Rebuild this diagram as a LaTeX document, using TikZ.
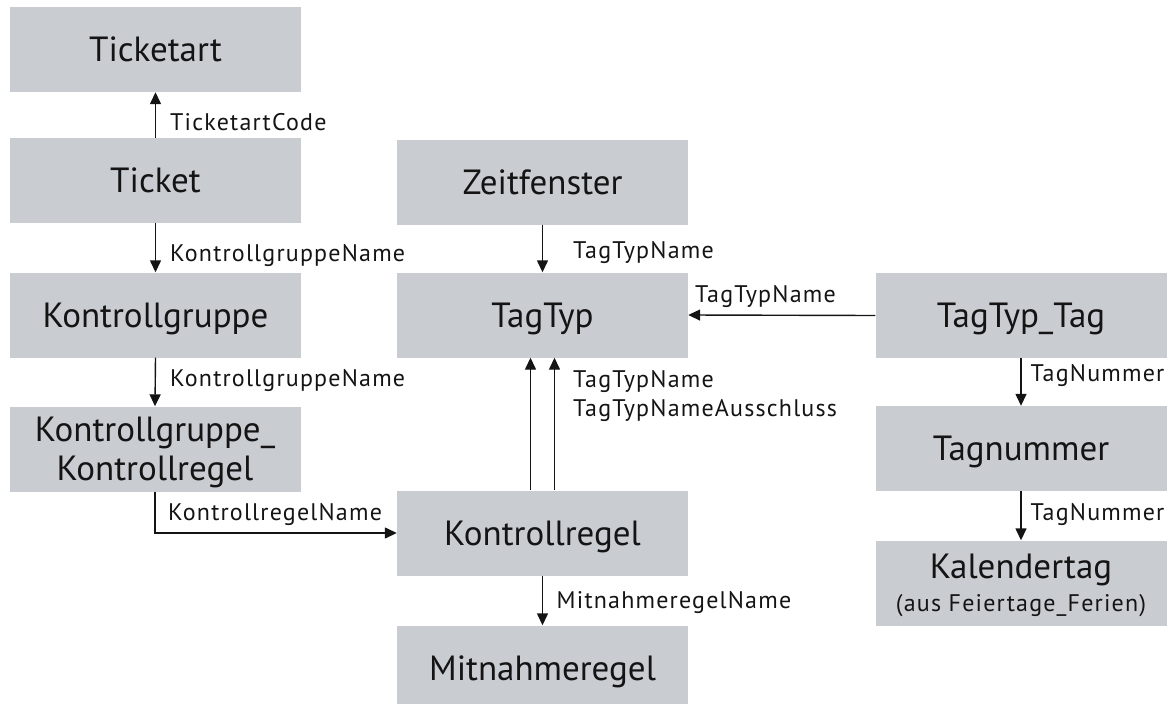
\documentclass[tikz,border=0pt]{standalone}
\usepackage{fontspec}
\setmainfont{PT Sans}
\newfontfamily\labfont{PT Sans}[LetterSpace=5]
\usetikzlibrary{arrows.meta}
\definecolor{boxgray}{RGB}{201,205,210}
\definecolor{inkblack}{RGB}{20,20,20}
\begin{document}
\begin{tikzpicture}[x=1pt,y=-1pt,
  entity/.style={fill=boxgray, draw=none, minimum width=291pt, minimum height=85pt,
    inner sep=0pt, font=\fontsize{35}{39}\selectfont, align=center,
    text=inkblack, text height=24.5pt, text depth=0pt},
  rel/.style={line width=1.4pt, draw=inkblack, -{Triangle[length=12pt,width=11pt]}},
  lab/.style={font=\labfont\fontsize{24}{29}\selectfont, anchor=base west, inner sep=0pt,
    text=inkblack, align=left}]
\useasboundingbox (0,0) rectangle (1173,704);
% entities
\node[entity] (ticketart) at (155.5,49.5) {Ticketart};
\node[entity] (ticket) at (155.5,180.5) {Ticket};
\node[entity] (kgruppe) at (155.5,315) {Kontrollgruppe};
\node[entity, text height=63.5pt] (kgkr) at (155,449) {Kontrollgruppe\_\\Kontrollregel};
\node[entity] (zeit) at (542.5,182) {Zeitfenster};
\node[entity] (tagtyp) at (542.5,315) {TagTyp};
\node[entity] (kregel) at (542.5,533) {Kontrollregel};
\node[entity] (mitnahme) at (542.5,668) {Mitnahmeregel};
\node[entity] (ttt) at (1021,315.5) {TagTyp\_Tag};
\node[entity] (tagnr) at (1021,448.5) {Tagnummer};
\node[entity, font=\fontsize{35}{33}\selectfont, text height=57.5pt] (kal) at (1021,583)
  {Kalendertag\\{\labfont\fontsize{24}{27}\selectfont (aus Feiertage\_Ferien)}};
% connectors
\draw[rel] (ticket.north) -- (ticketart.south);
\draw[rel] (ticket.south) -- (kgruppe.north);
\draw[rel] (kgruppe.south) -- (kgkr.north);
\draw[rel] (kgkr.south) |- (kregel.west);
\draw[rel] (zeit.south) -- (tagtyp.north);
\draw[rel] (ttt.west) -- (tagtyp.east);
\draw[rel] ([xshift=-12pt]kregel.north) -- ([xshift=-12pt]tagtyp.south);
\draw[rel] ([xshift=12pt]kregel.north) -- ([xshift=12pt]tagtyp.south);
\draw[rel] (kregel.south) -- (mitnahme.north);
\draw[rel] (ttt.south) -- (tagnr.north);
\draw[rel] (tagnr.south) -- (kal.north);
% labels
\node[lab] (l1) at (170,130) {TicketartCode};
\node[lab] (l2) at (170,261) {KontrollgruppeName};
\node[lab] (l3) at (170,386.5) {KontrollgruppeName};
\node[lab] (l4) at (168,520) {KontrollregelName};
\node[lab] (l5) at (573,258) {TagTypName};
\node[lab] (l6) at (695,302.5) {TagTypName};
\node[lab] (l7) at (573,416.5) {TagTypName\\TagTypNameAusschluss};
\node[lab] (l8) at (556.5,608) {MitnahmeregelName};
\node[lab] (l9) at (1030.5,381.5) {TagNummer};
\node[lab] (l10) at (1030.5,520) {TagNummer};
\end{tikzpicture}
\end{document}
